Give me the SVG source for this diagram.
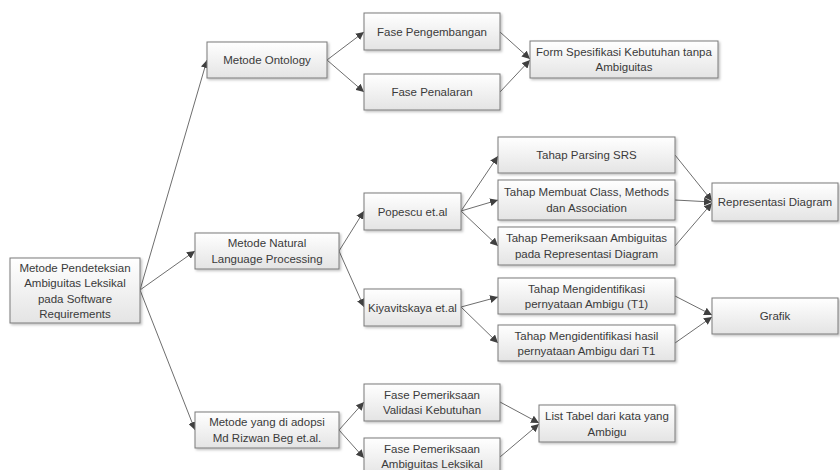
<svg xmlns="http://www.w3.org/2000/svg" width="840" height="470" viewBox="0 0 840 470">
<defs>
<linearGradient id="g" x1="0" y1="0" x2="0" y2="1">
<stop offset="0" stop-color="#ffffff"/>
<stop offset="1" stop-color="#e4e4e4"/>
</linearGradient>
<filter id="sh" x="-10%" y="-10%" width="120%" height="130%">
<feDropShadow dx="1.5" dy="1.5" stdDeviation="0.8" flood-color="#000" flood-opacity="0.25"/>
</filter>
<marker id="ah" viewBox="0 0 10 10" refX="10" refY="5" markerWidth="8" markerHeight="8" markerUnits="userSpaceOnUse" orient="auto">
<path d="M0,0 L10,5 L0,10 z" fill="#404040"/>
</marker>
<style>
.b{fill:url(#g);stroke:#7a7a7a;stroke-width:1;filter:url(#sh)}
.t{font-family:"Liberation Sans",Arial,sans-serif;font-size:11.5px;fill:#3a3a3a;text-anchor:middle}
.c line{stroke:#6e6e6e;stroke-width:1;marker-end:url(#ah)}
</style>
</defs>
<rect width="840" height="470" fill="#ffffff"/>
<g class="c" id="connectors">
<line x1="140" y1="290" x2="207" y2="60"/>
<line x1="140" y1="290" x2="195" y2="251"/>
<line x1="140" y1="290" x2="195" y2="430"/>
<line x1="327" y1="60" x2="364" y2="32"/>
<line x1="327" y1="60" x2="364" y2="92"/>
<line x1="500" y1="32" x2="530" y2="59"/>
<line x1="500" y1="92" x2="530" y2="60"/>
<line x1="339" y1="251" x2="364" y2="211"/>
<line x1="339" y1="251" x2="364" y2="307"/>
<line x1="461" y1="211" x2="498" y2="156"/>
<line x1="461" y1="211" x2="498" y2="200"/>
<line x1="461" y1="211" x2="498" y2="246"/>
<line x1="675" y1="155" x2="712" y2="201"/>
<line x1="675" y1="200" x2="712" y2="202"/>
<line x1="675" y1="246" x2="712" y2="203"/>
<line x1="461" y1="307" x2="498" y2="297"/>
<line x1="461" y1="307" x2="498" y2="343"/>
<line x1="675" y1="296" x2="712" y2="315"/>
<line x1="675" y1="343" x2="712" y2="317"/>
<line x1="339" y1="430" x2="364" y2="402"/>
<line x1="339" y1="430" x2="364" y2="458"/>
<line x1="500" y1="402" x2="539" y2="423"/>
<line x1="500" y1="457" x2="539" y2="424"/>
</g>
<g id="root"><rect class="b" x="10" y="258" width="130" height="65"/>
<text class="t" x="75" y="271.5">Metode Pendeteksian</text>
<text class="t" x="75" y="287">Ambiguitas Leksikal</text>
<text class="t" x="75" y="302.5">pada Software</text>
<text class="t" x="75" y="318">Requirements</text></g>
<g id="ontology"><rect class="b" x="207" y="42" width="120" height="36"/>
<text class="t" x="267" y="64">Metode Ontology</text></g>
<g id="fase-pengembangan"><rect class="b" x="364" y="13" width="136" height="37"/>
<text class="t" x="432" y="35.5">Fase Pengembangan</text></g>
<g id="fase-penalaran"><rect class="b" x="364" y="74" width="136" height="36"/>
<text class="t" x="432" y="96">Fase Penalaran</text></g>
<g id="form-spesifikasi"><rect class="b" x="530" y="41" width="188" height="37"/>
<text class="t" x="624" y="56">Form Spesifikasi Kebutuhan tanpa</text>
<text class="t" x="624" y="71">Ambiguitas</text></g>
<g id="nlp"><rect class="b" x="195" y="233" width="144" height="36"/>
<text class="t" x="267" y="247">Metode Natural</text>
<text class="t" x="267" y="263">Language Processing</text></g>
<g id="popescu"><rect class="b" x="364" y="193" width="97" height="37"/>
<text class="t" x="412.5" y="215.5">Popescu et.al</text></g>
<g id="kiyavitskaya"><rect class="b" x="364" y="289" width="97" height="37"/>
<text class="t" x="412.5" y="311.5">Kiyavitskaya et.al</text></g>
<g id="parsing"><rect class="b" x="498" y="137" width="177" height="36"/>
<text class="t" x="586.5" y="159">Tahap Parsing SRS</text></g>
<g id="membuat"><rect class="b" x="498" y="180" width="177" height="40"/>
<text class="t" x="586.5" y="196">Tahap Membuat Class, Methods</text>
<text class="t" x="586.5" y="211.5">dan Association</text></g>
<g id="pemeriksaan-diagram"><rect class="b" x="498" y="227" width="177" height="38"/>
<text class="t" x="586.5" y="242">Tahap Pemeriksaan Ambiguitas</text>
<text class="t" x="586.5" y="257.5">pada Representasi Diagram</text></g>
<g id="representasi"><rect class="b" x="712" y="183" width="126" height="38"/>
<text class="t" x="775" y="206">Representasi Diagram</text></g>
<g id="t1"><rect class="b" x="498" y="278" width="177" height="36"/>
<text class="t" x="586.5" y="292.5">Tahap Mengidentifikasi</text>
<text class="t" x="586.5" y="308">pernyataan Ambigu (T1)</text></g>
<g id="t1-hasil"><rect class="b" x="498" y="325" width="177" height="36"/>
<text class="t" x="586.5" y="339.5">Tahap Mengidentifikasi hasil</text>
<text class="t" x="586.5" y="355">pernyataan Ambigu dari T1</text></g>
<g id="grafik"><rect class="b" x="712" y="298" width="126" height="36"/>
<text class="t" x="775" y="320">Grafik</text></g>
<g id="md-rizwan"><rect class="b" x="195" y="412" width="144" height="36"/>
<text class="t" x="267" y="426">Metode yang di adopsi</text>
<text class="t" x="267" y="442">Md Rizwan Beg et.al.</text></g>
<g id="validasi"><rect class="b" x="364" y="384" width="136" height="37"/>
<text class="t" x="432" y="398.5">Fase Pemeriksaan</text>
<text class="t" x="432" y="414">Validasi Kebutuhan</text></g>
<g id="ambiguitas-leksikal"><rect class="b" x="364" y="438" width="136" height="38"/>
<text class="t" x="432" y="452.5">Fase Pemeriksaan</text>
<text class="t" x="432" y="468">Ambiguitas Leksikal</text></g>
<g id="list-tabel"><rect class="b" x="539" y="405" width="136" height="37"/>
<text class="t" x="607" y="420">List Tabel dari kata yang</text>
<text class="t" x="607" y="435.5">Ambigu</text></g>
</svg>
